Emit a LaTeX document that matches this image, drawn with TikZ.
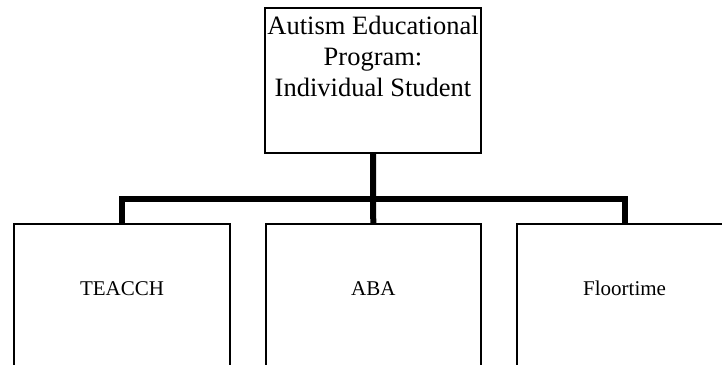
\documentclass[tikz,border=0pt]{standalone}
\usepackage{fontspec}
\setmainfont{Liberation Serif}
\begin{document}
\begin{tikzpicture}[x=1pt,y=-1pt,
  topbox/.style={draw, line width=2pt, inner sep=0pt, minimum width=216pt, minimum height=144.4pt,
    align=center, font=\fontsize{26.5}{31}\selectfont, text height=80pt, text depth=49pt, anchor=north},
  leafbox/.style={draw, line width=2pt, inner sep=0pt, minimum height=160pt, anchor=north,
    font=\fontsize{21}{25}\selectfont, text height=14pt, text depth=32pt},
  conn/.style={line width=6pt, line join=miter}]
\useasboundingbox (0,0) rectangle (722,364);
\clip (0,0) rectangle (722,364);
\node[topbox] (top) at (373,7.3) {Autism Educational\\Program:\\Individual Student};
\node[leafbox, minimum width=216pt] (a) at (122,223.3) {TEACCH};
\node[leafbox, minimum width=215.3pt] (b) at (373.3,223.3) {ABA};
\node[leafbox, minimum width=216pt] (c) at (624.6,223.3) {Floortime};
\coordinate (bus) at (373.3,199);
\draw[conn] (a.north) -- (a.north |- bus) -- (c.north |- bus) -- (c.north);
\draw[conn] (top.south) -- (top.south |- bus) -- (b.north);
\end{tikzpicture}
\end{document}
